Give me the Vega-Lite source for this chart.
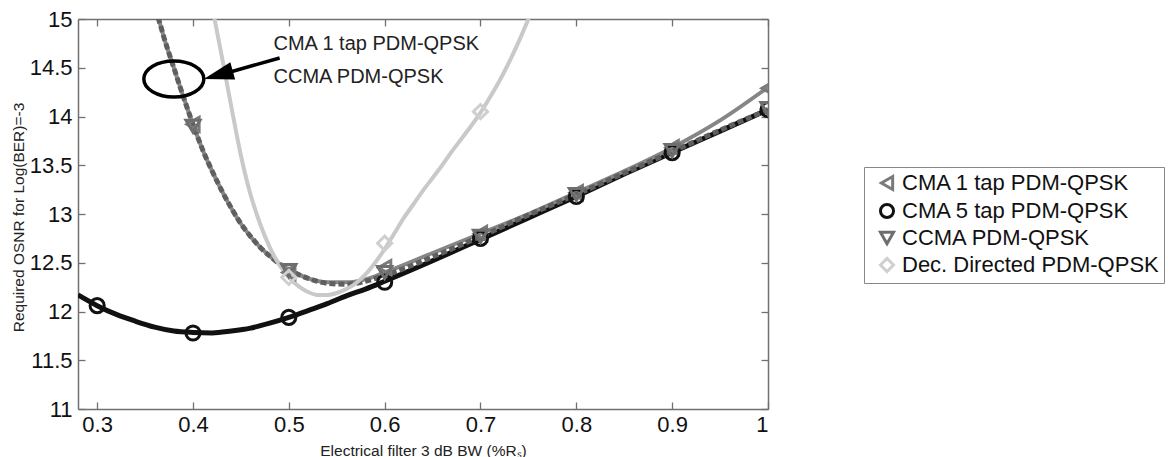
{
  "$schema": "https://vega.github.io/schema/vega-lite/v6.json",
  "width": 690,
  "height": 390,
  "autosize": {"type": "none"},
  "padding": {"left": 78, "top": 19, "right": 400, "bottom": 48},
  "background": "white",
  "config": {
    "font": "Liberation Sans",
    "view": {"stroke": null},
    "axis": {
      "domainColor": "#707070",
      "domainWidth": 1.5,
      "tickColor": "#707070",
      "tickWidth": 1.3,
      "tickSize": -7,
      "grid": false,
      "labelFont": "Liberation Sans",
      "labelFontSize": 22,
      "labelColor": "#111",
      "titleFont": "Liberation Sans",
      "titleFontSize": 15.5,
      "titleFontWeight": "normal",
      "titleColor": "#222"
    }
  },
  "datasets": {
    "curves": [
      {"s": "CMA 5 tap PDM-QPSK", "x": 0.28, "y": 12.17},
      {"s": "CMA 5 tap PDM-QPSK", "x": 0.30, "y": 12.06},
      {"s": "CMA 5 tap PDM-QPSK", "x": 0.32, "y": 11.97},
      {"s": "CMA 5 tap PDM-QPSK", "x": 0.34, "y": 11.9},
      {"s": "CMA 5 tap PDM-QPSK", "x": 0.36, "y": 11.84},
      {"s": "CMA 5 tap PDM-QPSK", "x": 0.38, "y": 11.8},
      {"s": "CMA 5 tap PDM-QPSK", "x": 0.40, "y": 11.785},
      {"s": "CMA 5 tap PDM-QPSK", "x": 0.42, "y": 11.78},
      {"s": "CMA 5 tap PDM-QPSK", "x": 0.44, "y": 11.8},
      {"s": "CMA 5 tap PDM-QPSK", "x": 0.46, "y": 11.83},
      {"s": "CMA 5 tap PDM-QPSK", "x": 0.48, "y": 11.88},
      {"s": "CMA 5 tap PDM-QPSK", "x": 0.50, "y": 11.94},
      {"s": "CMA 5 tap PDM-QPSK", "x": 0.52, "y": 12.01},
      {"s": "CMA 5 tap PDM-QPSK", "x": 0.54, "y": 12.08},
      {"s": "CMA 5 tap PDM-QPSK", "x": 0.56, "y": 12.16},
      {"s": "CMA 5 tap PDM-QPSK", "x": 0.58, "y": 12.23},
      {"s": "CMA 5 tap PDM-QPSK", "x": 0.60, "y": 12.31},
      {"s": "CMA 5 tap PDM-QPSK", "x": 0.65, "y": 12.52},
      {"s": "CMA 5 tap PDM-QPSK", "x": 0.70, "y": 12.74},
      {"s": "CMA 5 tap PDM-QPSK", "x": 0.75, "y": 12.96},
      {"s": "CMA 5 tap PDM-QPSK", "x": 0.80, "y": 13.18},
      {"s": "CMA 5 tap PDM-QPSK", "x": 0.85, "y": 13.41},
      {"s": "CMA 5 tap PDM-QPSK", "x": 0.90, "y": 13.63},
      {"s": "CMA 5 tap PDM-QPSK", "x": 0.95, "y": 13.85},
      {"s": "CMA 5 tap PDM-QPSK", "x": 1.00, "y": 14.07},

      {"s": "CMA 1 tap PDM-QPSK", "x": 0.36, "y": 15.1},
      {"s": "CMA 1 tap PDM-QPSK", "x": 0.365, "y": 14.97},
      {"s": "CMA 1 tap PDM-QPSK", "x": 0.37, "y": 14.8},
      {"s": "CMA 1 tap PDM-QPSK", "x": 0.38, "y": 14.5},
      {"s": "CMA 1 tap PDM-QPSK", "x": 0.39, "y": 14.2},
      {"s": "CMA 1 tap PDM-QPSK", "x": 0.40, "y": 13.92},
      {"s": "CMA 1 tap PDM-QPSK", "x": 0.41, "y": 13.66},
      {"s": "CMA 1 tap PDM-QPSK", "x": 0.42, "y": 13.44},
      {"s": "CMA 1 tap PDM-QPSK", "x": 0.43, "y": 13.24},
      {"s": "CMA 1 tap PDM-QPSK", "x": 0.44, "y": 13.06},
      {"s": "CMA 1 tap PDM-QPSK", "x": 0.45, "y": 12.9},
      {"s": "CMA 1 tap PDM-QPSK", "x": 0.46, "y": 12.77},
      {"s": "CMA 1 tap PDM-QPSK", "x": 0.47, "y": 12.66},
      {"s": "CMA 1 tap PDM-QPSK", "x": 0.48, "y": 12.57},
      {"s": "CMA 1 tap PDM-QPSK", "x": 0.49, "y": 12.49},
      {"s": "CMA 1 tap PDM-QPSK", "x": 0.50, "y": 12.43},
      {"s": "CMA 1 tap PDM-QPSK", "x": 0.52, "y": 12.34},
      {"s": "CMA 1 tap PDM-QPSK", "x": 0.54, "y": 12.3},
      {"s": "CMA 1 tap PDM-QPSK", "x": 0.56, "y": 12.3},
      {"s": "CMA 1 tap PDM-QPSK", "x": 0.58, "y": 12.33},
      {"s": "CMA 1 tap PDM-QPSK", "x": 0.60, "y": 12.4},
      {"s": "CMA 1 tap PDM-QPSK", "x": 0.65, "y": 12.6},
      {"s": "CMA 1 tap PDM-QPSK", "x": 0.70, "y": 12.8},
      {"s": "CMA 1 tap PDM-QPSK", "x": 0.75, "y": 13.0},
      {"s": "CMA 1 tap PDM-QPSK", "x": 0.80, "y": 13.22},
      {"s": "CMA 1 tap PDM-QPSK", "x": 0.85, "y": 13.44},
      {"s": "CMA 1 tap PDM-QPSK", "x": 0.90, "y": 13.68},
      {"s": "CMA 1 tap PDM-QPSK", "x": 0.95, "y": 13.96},
      {"s": "CMA 1 tap PDM-QPSK", "x": 1.00, "y": 14.3},

      {"s": "CCMA PDM-QPSK", "x": 0.36, "y": 15.1},
      {"s": "CCMA PDM-QPSK", "x": 0.365, "y": 14.97},
      {"s": "CCMA PDM-QPSK", "x": 0.37, "y": 14.8},
      {"s": "CCMA PDM-QPSK", "x": 0.38, "y": 14.5},
      {"s": "CCMA PDM-QPSK", "x": 0.39, "y": 14.2},
      {"s": "CCMA PDM-QPSK", "x": 0.40, "y": 13.92},
      {"s": "CCMA PDM-QPSK", "x": 0.41, "y": 13.66},
      {"s": "CCMA PDM-QPSK", "x": 0.42, "y": 13.44},
      {"s": "CCMA PDM-QPSK", "x": 0.43, "y": 13.24},
      {"s": "CCMA PDM-QPSK", "x": 0.44, "y": 13.06},
      {"s": "CCMA PDM-QPSK", "x": 0.45, "y": 12.9},
      {"s": "CCMA PDM-QPSK", "x": 0.46, "y": 12.77},
      {"s": "CCMA PDM-QPSK", "x": 0.47, "y": 12.66},
      {"s": "CCMA PDM-QPSK", "x": 0.48, "y": 12.57},
      {"s": "CCMA PDM-QPSK", "x": 0.49, "y": 12.49},
      {"s": "CCMA PDM-QPSK", "x": 0.50, "y": 12.43},
      {"s": "CCMA PDM-QPSK", "x": 0.52, "y": 12.34},
      {"s": "CCMA PDM-QPSK", "x": 0.54, "y": 12.29},
      {"s": "CCMA PDM-QPSK", "x": 0.56, "y": 12.28},
      {"s": "CCMA PDM-QPSK", "x": 0.58, "y": 12.31},
      {"s": "CCMA PDM-QPSK", "x": 0.60, "y": 12.37},
      {"s": "CCMA PDM-QPSK", "x": 0.65, "y": 12.56},
      {"s": "CCMA PDM-QPSK", "x": 0.70, "y": 12.77},
      {"s": "CCMA PDM-QPSK", "x": 0.75, "y": 12.99},
      {"s": "CCMA PDM-QPSK", "x": 0.80, "y": 13.2},
      {"s": "CCMA PDM-QPSK", "x": 0.85, "y": 13.42},
      {"s": "CCMA PDM-QPSK", "x": 0.90, "y": 13.64},
      {"s": "CCMA PDM-QPSK", "x": 0.95, "y": 13.86},
      {"s": "CCMA PDM-QPSK", "x": 1.00, "y": 14.07},

      {"s": "Dec. Directed PDM-QPSK", "x": 0.42, "y": 15.12},
      {"s": "Dec. Directed PDM-QPSK", "x": 0.4225, "y": 15.0},
      {"s": "Dec. Directed PDM-QPSK", "x": 0.43, "y": 14.62},
      {"s": "Dec. Directed PDM-QPSK", "x": 0.44, "y": 14.1},
      {"s": "Dec. Directed PDM-QPSK", "x": 0.45, "y": 13.6},
      {"s": "Dec. Directed PDM-QPSK", "x": 0.46, "y": 13.2},
      {"s": "Dec. Directed PDM-QPSK", "x": 0.47, "y": 12.9},
      {"s": "Dec. Directed PDM-QPSK", "x": 0.48, "y": 12.66},
      {"s": "Dec. Directed PDM-QPSK", "x": 0.49, "y": 12.48},
      {"s": "Dec. Directed PDM-QPSK", "x": 0.50, "y": 12.35},
      {"s": "Dec. Directed PDM-QPSK", "x": 0.51, "y": 12.26},
      {"s": "Dec. Directed PDM-QPSK", "x": 0.52, "y": 12.2},
      {"s": "Dec. Directed PDM-QPSK", "x": 0.53, "y": 12.17},
      {"s": "Dec. Directed PDM-QPSK", "x": 0.54, "y": 12.17},
      {"s": "Dec. Directed PDM-QPSK", "x": 0.55, "y": 12.19},
      {"s": "Dec. Directed PDM-QPSK", "x": 0.56, "y": 12.23},
      {"s": "Dec. Directed PDM-QPSK", "x": 0.57, "y": 12.29},
      {"s": "Dec. Directed PDM-QPSK", "x": 0.58, "y": 12.38},
      {"s": "Dec. Directed PDM-QPSK", "x": 0.59, "y": 12.5},
      {"s": "Dec. Directed PDM-QPSK", "x": 0.60, "y": 12.64},
      {"s": "Dec. Directed PDM-QPSK", "x": 0.61, "y": 12.8},
      {"s": "Dec. Directed PDM-QPSK", "x": 0.62, "y": 12.96},
      {"s": "Dec. Directed PDM-QPSK", "x": 0.63, "y": 13.1},
      {"s": "Dec. Directed PDM-QPSK", "x": 0.64, "y": 13.24},
      {"s": "Dec. Directed PDM-QPSK", "x": 0.65, "y": 13.37},
      {"s": "Dec. Directed PDM-QPSK", "x": 0.66, "y": 13.5},
      {"s": "Dec. Directed PDM-QPSK", "x": 0.67, "y": 13.64},
      {"s": "Dec. Directed PDM-QPSK", "x": 0.68, "y": 13.77},
      {"s": "Dec. Directed PDM-QPSK", "x": 0.69, "y": 13.9},
      {"s": "Dec. Directed PDM-QPSK", "x": 0.70, "y": 14.04},
      {"s": "Dec. Directed PDM-QPSK", "x": 0.71, "y": 14.2},
      {"s": "Dec. Directed PDM-QPSK", "x": 0.72, "y": 14.37},
      {"s": "Dec. Directed PDM-QPSK", "x": 0.73, "y": 14.56},
      {"s": "Dec. Directed PDM-QPSK", "x": 0.74, "y": 14.77},
      {"s": "Dec. Directed PDM-QPSK", "x": 0.75, "y": 15.0},
      {"s": "Dec. Directed PDM-QPSK", "x": 0.755, "y": 15.12}
    ],
    "markers": [
      {"s": "CMA 1 tap PDM-QPSK", "x": 0.4, "y": 13.92},
      {"s": "CMA 1 tap PDM-QPSK", "x": 0.5, "y": 12.4},
      {"s": "CMA 1 tap PDM-QPSK", "x": 0.6, "y": 12.45},
      {"s": "CMA 1 tap PDM-QPSK", "x": 0.7, "y": 12.8},
      {"s": "CMA 1 tap PDM-QPSK", "x": 0.8, "y": 13.22},
      {"s": "CMA 1 tap PDM-QPSK", "x": 0.9, "y": 13.68},
      {"s": "CMA 1 tap PDM-QPSK", "x": 1.0, "y": 14.29},
      {"s": "CMA 5 tap PDM-QPSK", "x": 0.3, "y": 12.06},
      {"s": "CMA 5 tap PDM-QPSK", "x": 0.4, "y": 11.78},
      {"s": "CMA 5 tap PDM-QPSK", "x": 0.5, "y": 11.94},
      {"s": "CMA 5 tap PDM-QPSK", "x": 0.6, "y": 12.3},
      {"s": "CMA 5 tap PDM-QPSK", "x": 0.7, "y": 12.75},
      {"s": "CMA 5 tap PDM-QPSK", "x": 0.8, "y": 13.18},
      {"s": "CMA 5 tap PDM-QPSK", "x": 0.9, "y": 13.63},
      {"s": "CMA 5 tap PDM-QPSK", "x": 1.0, "y": 14.07},
      {"s": "CCMA PDM-QPSK", "x": 0.4, "y": 13.9},
      {"s": "CCMA PDM-QPSK", "x": 0.5, "y": 12.42},
      {"s": "CCMA PDM-QPSK", "x": 0.6, "y": 12.4},
      {"s": "CCMA PDM-QPSK", "x": 0.7, "y": 12.77},
      {"s": "CCMA PDM-QPSK", "x": 0.8, "y": 13.2},
      {"s": "CCMA PDM-QPSK", "x": 0.9, "y": 13.65},
      {"s": "CCMA PDM-QPSK", "x": 1.0, "y": 14.08},
      {"s": "Dec. Directed PDM-QPSK", "x": 0.5, "y": 12.35},
      {"s": "Dec. Directed PDM-QPSK", "x": 0.6, "y": 12.7},
      {"s": "Dec. Directed PDM-QPSK", "x": 0.7, "y": 14.05}
    ],
    "notes": [
      {"x": 0.484, "y": 14.74, "t": "CMA 1 tap PDM-QPSK"},
      {"x": 0.484, "y": 14.405, "t": "CCMA PDM-QPSK"}
    ],
    "ellipse": [{"x": 0.38, "y": 14.385}],
    "arrowhead": [{"x": 0.4113, "y": 14.385}],
    "arrowshaft": [{"x": 0.4904, "y": 14.6}, {"x": 0.4279, "y": 14.426}]
  },
  "layer": [
    {
      "data": {"name": "curves"},
      "transform": [{"filter": "datum.s === 'CMA 5 tap PDM-QPSK'"}],
      "mark": {"type": "line", "color": "#111", "strokeWidth": 5, "interpolate": "monotone", "clip": true},
      "encoding": {
        "x": {"field": "x", "type": "quantitative", "scale": {"domain": [0.28, 1.0], "nice": false, "zero": false},
          "axis": {"orient": "bottom", "values": [0.3, 0.4, 0.5, 0.6, 0.7, 0.8, 0.9, 1], "format": "~g", "labelPadding": 12, "title": "Electrical filter 3 dB BW (%Rₛ)", "titleY": 46, "titleBaseline": "alphabetic"}},
        "y": {"field": "y", "type": "quantitative", "scale": {"domain": [11, 15], "nice": false, "zero": false},
          "axis": {"orient": "left", "values": [11, 11.5, 12, 12.5, 13, 13.5, 14, 14.5, 15], "format": "~g", "labelPadding": 13, "title": "Required OSNR for Log(BER)=-3", "titleX": -54.5, "titleY": 198, "titleAngle": -90, "titleBaseline": "alphabetic", "titleAlign": "center"}}
      }
    },
    {
      "data": {"name": "curves"},
      "transform": [{"filter": "datum.s === 'CMA 1 tap PDM-QPSK'"}],
      "mark": {"type": "line", "color": "#868686", "strokeWidth": 4, "interpolate": "monotone", "clip": true},
      "encoding": {
        "x": {"field": "x", "type": "quantitative",
          "axis": {"orient": "top", "values": [0.3, 0.4, 0.5, 0.6, 0.7, 0.8, 0.9, 1], "labels": false, "title": null}},
        "y": {"field": "y", "type": "quantitative",
          "axis": {"orient": "right", "values": [11, 11.5, 12, 12.5, 13, 13.5, 14, 14.5, 15], "labels": false, "title": null}}
      }
    },
    {
      "data": {"name": "curves"},
      "transform": [{"filter": "datum.s === 'CCMA PDM-QPSK'"}],
      "mark": {"type": "line", "color": "#5f5f5f", "strokeWidth": 5, "strokeDash": [6, 3], "interpolate": "monotone", "clip": true},
      "encoding": {
        "x": {"field": "x", "type": "quantitative", "axis": null},
        "y": {"field": "y", "type": "quantitative", "axis": null}
      }
    },
    {
      "data": {"name": "curves"},
      "transform": [{"filter": "datum.s === 'Dec. Directed PDM-QPSK'"}],
      "mark": {"type": "line", "color": "#c9c9c9", "strokeWidth": 4, "interpolate": "monotone", "clip": true},
      "encoding": {
        "x": {"field": "x", "type": "quantitative", "axis": null},
        "y": {"field": "y", "type": "quantitative", "axis": null}
      }
    },
    {
      "data": {"name": "markers"},
      "mark": {"type": "point", "filled": false, "strokeWidth": 3, "size": 200, "opacity": 1, "clip": true},
      "encoding": {
        "x": {"field": "x", "type": "quantitative", "axis": null},
        "y": {"field": "y", "type": "quantitative", "axis": null},
        "color": {"field": "s", "type": "nominal",
          "scale": {"domain": ["CMA 1 tap PDM-QPSK", "CMA 5 tap PDM-QPSK", "CCMA PDM-QPSK", "Dec. Directed PDM-QPSK"], "range": ["#7a7a7a", "#111111", "#6e6e6e", "#cfcfcf"]},
          "legend": {"orient": "none", "legendX": 786, "legendY": 148, "title": null, "labelFontSize": 22, "labelFont": "Liberation Sans", "labelColor": "#111", "labelLimit": 400, "labelOffset": 4, "symbolSize": 170, "symbolStrokeWidth": 3, "symbolOpacity": 1, "symbolOffset": 7, "padding": 5, "rowPadding": 2, "strokeColor": "#888"}},
        "shape": {"field": "s", "type": "nominal",
          "scale": {"domain": ["CMA 1 tap PDM-QPSK", "CMA 5 tap PDM-QPSK", "CCMA PDM-QPSK", "Dec. Directed PDM-QPSK"], "range": ["triangle-left", "circle", "triangle-down", "diamond"]},
          "legend": {"orient": "none", "legendX": 786, "legendY": 148, "title": null, "labelFontSize": 22, "labelFont": "Liberation Sans", "labelColor": "#111", "labelLimit": 400, "labelOffset": 4, "symbolSize": 170, "symbolStrokeWidth": 3, "symbolOpacity": 1, "symbolOffset": 7, "padding": 5, "rowPadding": 2, "strokeColor": "#888"}}
      }
    },
    {
      "data": {"name": "ellipse"},
      "mark": {"type": "point", "shape": "M-1,0 A1,0.6 0 1,0 1,0 A1,0.6 0 1,0 -1,0 Z", "size": 3600, "filled": false, "stroke": "#000", "strokeWidth": 3.5, "opacity": 1},
      "encoding": {
        "x": {"field": "x", "type": "quantitative", "axis": null},
        "y": {"field": "y", "type": "quantitative", "axis": null}
      }
    },
    {
      "data": {"name": "arrowshaft"},
      "mark": {"type": "line", "color": "#000", "strokeWidth": 3.5},
      "encoding": {
        "x": {"field": "x", "type": "quantitative", "axis": null},
        "y": {"field": "y", "type": "quantitative", "axis": null}
      }
    },
    {
      "data": {"name": "arrowhead"},
      "mark": {"type": "point", "shape": "M0,0 L2,-0.6 L2,0.6 Z", "size": 900, "filled": true, "fill": "#000", "strokeWidth": 0, "angle": 344.5, "opacity": 1},
      "encoding": {
        "x": {"field": "x", "type": "quantitative", "axis": null},
        "y": {"field": "y", "type": "quantitative", "axis": null}
      }
    },
    {
      "data": {"name": "notes"},
      "mark": {"type": "text", "align": "left", "baseline": "middle", "fontSize": 20, "font": "Liberation Sans", "color": "#222"},
      "encoding": {
        "x": {"field": "x", "type": "quantitative", "axis": null},
        "y": {"field": "y", "type": "quantitative", "axis": null},
        "text": {"field": "t"}
      }
    }
  ],
  "resolve": {"axis": {"x": "independent", "y": "independent"}}
}
